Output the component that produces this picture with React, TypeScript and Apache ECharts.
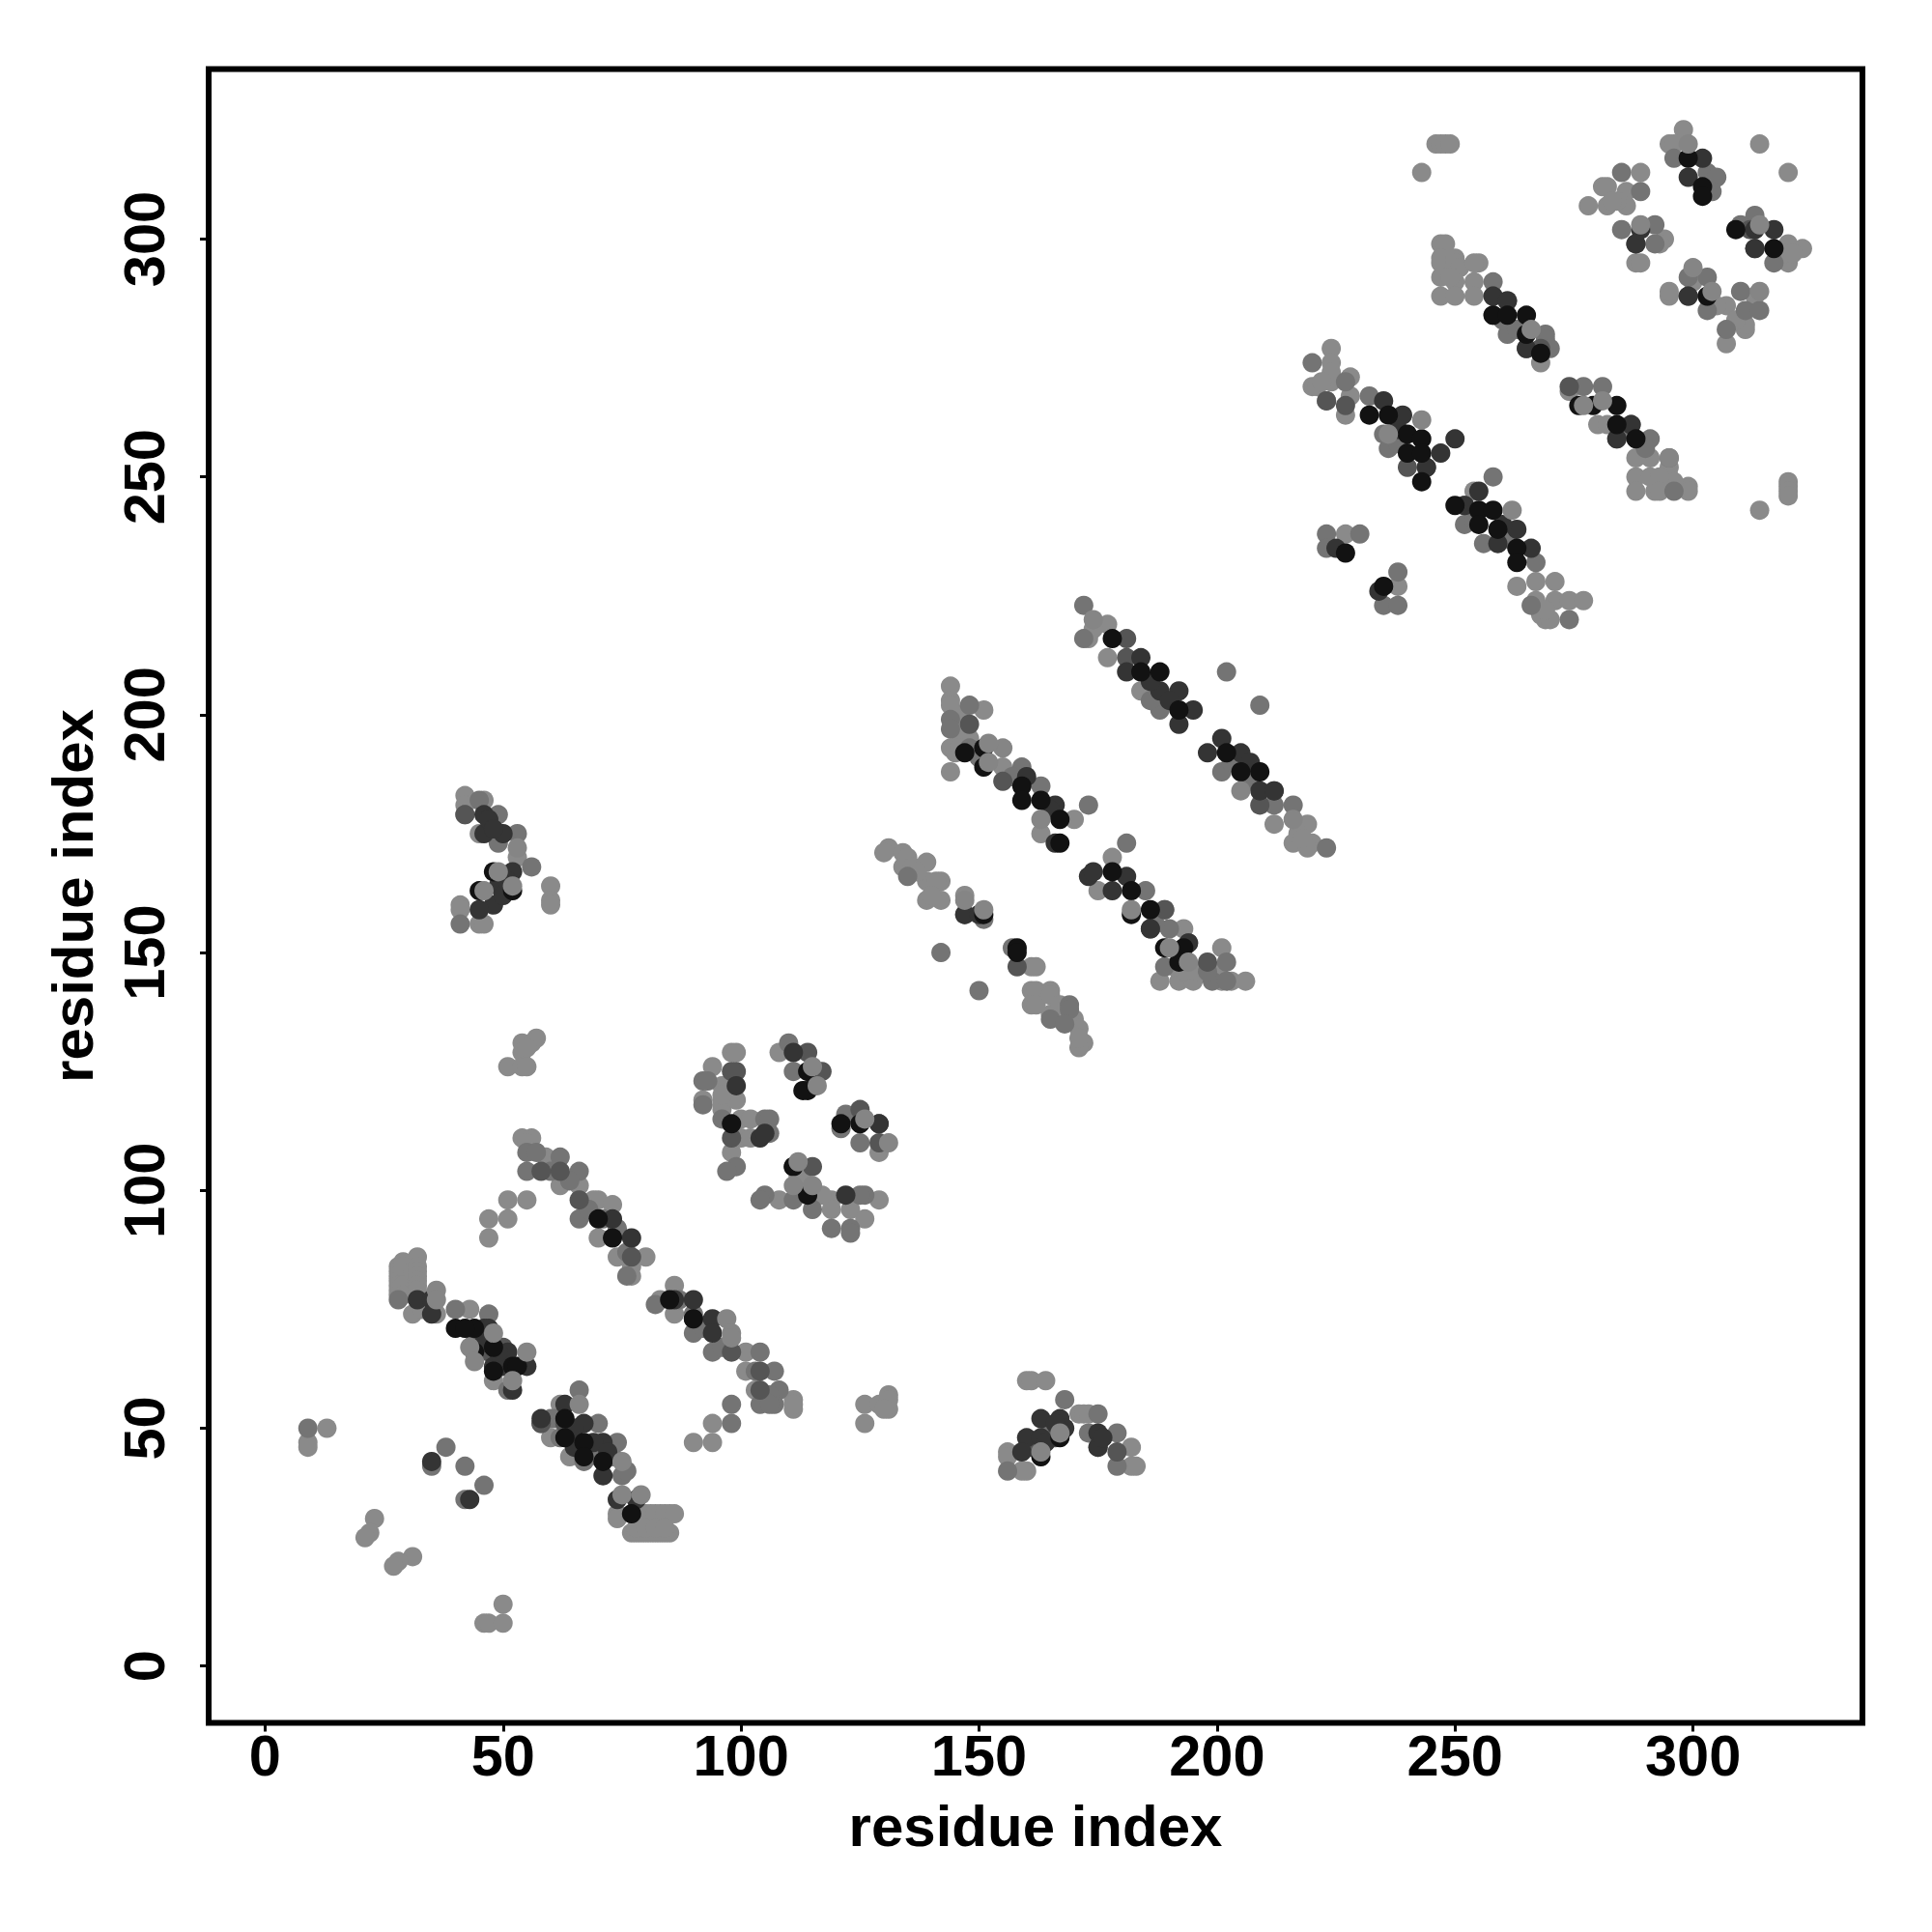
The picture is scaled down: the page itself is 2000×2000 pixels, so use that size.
import React, { useEffect, useRef } from "react";
import * as echarts from "echarts";

const tickValues = [0, 50, 100, 150, 200, 250, 300];
const axisTitle = "residue index";

const lightPoints = [
  [9,47],[9,46],[13,50],[47,94],[51,94],[47,90],[23,31],[22,28],[21,27],[31,23],[28,22],[27,21],[50,13],[46,9],[47,9],[50,9],
  [28,84],[28,83],[28,82],[28,81],[28,80],[28,79],[28,78],[29,85],[29,84],[29,80],[29,78],[31,83],[32,86],[32,84],[32,83],[32,82],[32,81],[32,80],[32,79],[31,74],[33,75],[36,74],
  [43,75],[48,60],[62,55],[60,48],[64,44],[74,32],[74,31],
  [78,32],[79,32],[80,32],[81,32],[82,32],[83,32],[84,32],[85,32],[86,32],[77,28],[78,28],[79,28],[80,28],[81,28],[82,28],[83,28],[84,28],[85,28],[78,29],[80,29],[82,29],[84,29],
  [86,80],[83,77],[86,74],[101,66],[101,62],[103,58],[111,56],[111,54],[111,55],[94,51],[90,47],[94,47],
  [126,55],[126,51],[129,55],[131,54],[131,57],[131,56],[130,54],[160,60],[161,60],[164,60],[171,53],[172,53],[173,53],[182,46],[182,42],[183,42],[156,45],[156,44],[160,41],[159,41],
  [98,129],[99,129],[94,126],[96,122],[92,119],[96,119],[96,117],[96,118],[99,119],[100,115],[102,115],[100,111],[102,111],[98,108],[96,120],
  [108,129],[129,108],[108,98],[129,98],[119,98],[119,96],[123,96],[126,94],[113,102],[117,99],[112,103],
  [42,183],[42,181],[46,182],[45,175],[53,170],[41,160],[41,159],[45,156],[46,156],[60,164],[60,161],[60,160],
  [57,132],[56,131],[54,131],[54,129],[55,130],[51,126],[54,126],[55,126],
  [54,111],[56,111],[55,110],[59,107],[62,101],[66,101],[51,98],[55,98],[69,98],[70,98],[73,97],[74,86],[80,86],[77,82],[77,84],[70,90],
  [131,172],[130,171],[134,171],[135,170],[134,168],[139,169],[142,165],[139,165],[139,161],[142,161],[147,162],[136,168],[137,167],[141,165],[140,162],[161,147],[162,147],
  [161,142],[162,142],[165,142],[161,139],[162,139],[165,141],[165,137],[170,136],[171,134],[172,131],[171,130],[169,137],[171,132],[167,139],
  [144,206],[144,203],[144,202],[146,200],[144,193],[144,188],[145,192],[148,195],[151,201],[155,189],[146,196],[146,193],[170,178],[163,175],
  [177,219],[173,216],[174,218],[177,212],[184,205],[212,177],[219,177],[216,173],[220,173],[219,172],[217,175],[218,174],
  [178,170],[175,163],[193,155],[201,151],[188,144],[192,144],[195,144],[203,144],[206,144],[193,146],[196,146],[191,147],[200,146],[201,144],
  [224,277],[224,274],[220,269],[221,269],[224,270],[224,272],[228,271],[228,267],[227,263],[222,270],[254,247],
  [263,227],[267,228],[271,228],[271,224],[274,224],[277,224],[269,220],[267,224],[268,221],[270,220],[269,222],[227,238],[238,227],
  [274,268],[280,261],[282,261],[288,254],[291,254],[288,250],[288,247],[292,247],[291,250],[295,250],[299,248],[299,247],[295,252],[296,249],[293,250],[293,247],
  [314,243],[246,320],[247,320],[248,320],[249,320],[243,314],[314,320],[320,314],[320,249],[320,248],[320,247],[320,246],
  [247,299],[248,299],[247,295],[247,296],[250,296],[250,295],[251,294],[255,295],[254,295],[247,292],[250,291],[254,291],[247,288],[250,288],[254,288],[249,292],[268,274],
  [278,307],[289,314],[281,311],[282,311],[282,307],[286,310],[286,307],[284,308],[294,300],[293,299],[288,295],[289,295],[283,308],
  [298,323],[295,320],[296,320],[320,299],[320,295],[323,298],[319,297],[318,296],[321,297],
  [295,288],[295,289],[307,286],[313,288],[311,281],[311,282],[307,278],[300,291],[309,283],[305,286],
];

const midPoints = [
  [9,50],[38,46],[42,42],[46,38],[42,35],[35,42],[28,77],[40,75],[47,74],[44,68],[51,58],
  [66,58],[60,52],[70,51],[74,47],[68,44],[67,43],[75,40],[58,51],[61,52],[62,48],[66,46],[69,46],[73,44],[76,41],
  [66,94],[76,82],[87,77],[82,76],[90,74],[90,70],[94,66],[104,66],[107,62],[108,58],[107,55],[104,55],[98,55],[98,51],[106,57],[106,55],[103,62],[96,67],[92,71],
  [175,53],[173,49],[179,49],[179,42],[156,41],[168,56],[162,46],[165,50],
  [92,123],[93,123],[92,118],[96,115],[105,115],[106,115],[106,112],[99,105],[97,104],
  [110,131],[111,125],[122,116],[121,113],[125,110],[105,99],[104,98],[111,98],[126,99],[115,96],[119,92],[123,92],[123,91],[125,99],
  [42,179],[45,182],[49,179],[49,173],[53,175],[56,168],[41,156],
  [55,108],[57,108],[55,104],[62,107],[66,104],[71,94],[60,104],[64,102],[68,96],[74,92],[76,87],
  [135,166],[165,136],[169,139],[169,138],[168,135],[142,150],[150,142],[157,151],[151,157],
  [144,199],[144,197],[148,202],[148,193],[159,189],[163,185],[173,181],[157,187],[150,191],
  [172,223],[172,216],[188,201],[202,209],[209,202],[201,188],[212,181],[216,181],[223,172],[186,203],[203,190],[207,186],
  [181,173],[185,163],[189,159],[190,155],[189,147],[202,148],[199,144],[202,144],[187,156],[198,146],
  [220,274],[227,270],[223,266],[232,267],[235,259],[236,256],[258,250],[252,240],[256,236],[267,232],[266,223],[274,220],[238,257],[254,241],[261,237],
  [223,238],[223,235],[230,238],[238,230],[235,223],[238,223],
  [277,269],[281,269],[291,258],[295,254],[296,247],[286,260],[290,256],
  [258,291],[261,280],[269,280],[269,279],[270,277],[285,314],[289,310],[292,303],[292,299],[285,302],[260,283],[263,281],
  [296,317],[303,314],[305,313],[304,310],[313,305],[310,303],[317,295],[299,292],[303,292],[303,285],[310,289],[311,285],[314,285],[307,281],
];

const slatePoints = [
  [58,51],[63,51],[77,86],[104,62],[104,58],[98,66],[90,73],
  [99,125],[98,125],[98,111],[114,129],[125,117],[129,110],[115,105],
  [42,179],[62,104],[58,104],[66,98],[147,158],[158,147],[148,198],[155,186],[181,212],[181,216],[186,155],[198,148],[194,152],
  [189,159],[212,184],[209,181],[240,252],[244,252],[223,266],[227,265],[252,244],[287,261],[284,258],[274,269],[312,302],
  [261,287],[258,288],[265,277],[268,277],[288,299],[299,288],[303,288],[313,298],[117,125],[129,114],[179,45],[175,46],
  [47,66],[50,67],[45,69],[166,48],[161,46],
];

const darkPoints = [
  [35,43],[43,35],[32,77],[35,77],[35,74],[46,71],[51,66],[52,58],[48,63],[55,63],[47,71],[50,63],[46,68],[49,66],
  [63,55],[58,52],[67,51],[71,47],[64,48],[71,40],[74,35],[78,35],[73,94],[77,90],[90,77],[86,77],[94,73],[94,70],[65,50],[69,47],[65,46],[72,45],
  [163,52],[167,52],[175,49],[175,46],[160,48],[163,48],[159,45],[168,50],[166,51],[164,47],[176,48],
  [99,122],[104,111],[111,129],[111,105],[122,99],[129,114],[105,112],
  [46,179],[46,175],[50,175],[52,167],[49,164],[48,160],[45,159],[50,162],[51,165],[47,178],[48,176],
  [147,158],[166,181],[166,173],[150,158],[181,209],[184,212],[188,205],[192,205],[195,201],[192,198],[186,207],[190,203],
  [198,192],[201,195],[205,192],[209,184],[212,184],[173,166],[174,167],[181,166],[178,163],[186,155],[194,152],[207,190],[160,187],[165,180],
  [235,266],[239,263],[247,255],[250,258],[244,252],[255,247],[252,244],[263,239],[259,236],[266,235],[234,226],[225,235],[238,260],[260,240],
  [287,261],[284,258],[258,288],[261,287],[258,284],[265,277],[302,317],[299,313],[313,302],[317,302],[313,298],[299,288],[288,299],[289,302],
];

const blackPoints = [
  [40,71],[44,71],[42,71],[44,66],[48,67],[52,63],[53,63],[48,62],
  [63,52],[63,48],[67,47],[67,44],[71,43],[77,32],[85,77],[90,73],[70,94],[73,90],
  [167,48],[163,44],[98,114],[114,125],[114,121],[113,121],[121,114],[125,114],[114,99],[111,105],[48,167],[52,163],[45,163],
  [158,151],[158,150],[151,158],[147,192],[151,193],[151,189],[159,185],[159,182],[163,182],[167,178],[167,173],
  [178,216],[184,209],[188,209],[192,201],[202,192],[205,188],[209,188],
  [178,167],[182,163],[186,159],[182,158],[189,151],[193,151],[192,148],
  [232,263],[236,263],[240,259],[243,258],[240,255],[243,255],[243,249],[250,244],[255,243],[258,243],[255,240],[259,239],[263,235],[263,232],
  [227,234],[235,227],[276,265],[279,265],[284,265],[284,261],[288,258],[258,284],[261,284],[265,284],[265,280],[268,276],
  [299,317],[302,311],[302,309],[309,302],[317,298],[303,288],
];

const overlayPoints = [
  [36,79],[36,77],[43,67],[44,64],[48,70],[55,66],[52,60],[66,55],[75,43],[75,36],[79,36],[97,73],[98,70],[98,69],
  [163,45],[167,49],[111,101],[115,101],[116,122],[115,126],[126,115],[131,110],[112,106],
  [49,167],[46,163],[52,164],[53,172],[147,161],[151,159],[163,178],[155,193],[152,190],[152,194],[174,220],
  [182,159],[190,151],[194,148],[205,184],[216,178],[236,259],[243,262],[262,243],
  [277,265],[281,266],[266,281],[289,303],[295,254],[299,320],[314,303],[300,294],[304,289],[314,289],
];

const shades = [
  { values: lightPoints, color: "#8a8a8a" },
  { values: midPoints, color: "#747474" },
  { values: slatePoints, color: "#555555" },
  { values: darkPoints, color: "#343434" },
  { values: blackPoints, color: "#121212" },
  { values: overlayPoints, color: "#858585" },
];

export default function App() {
  const ref = useRef<HTMLDivElement>(null);
  useEffect(() => {
    const chart = echarts.init(ref.current!, null, { renderer: "svg" });
    const font = { fontFamily: "Liberation Sans", fontWeight: "bold" as const, fontSize: 59.5, color: "#000" };
    const axis = {
      type: "value" as const,
      min: -11.85,
      max: 335.6,
      splitLine: { show: false },
      axisLine: { show: false, onZero: false },
      axisTick: { show: true, length: 9, customValues: tickValues, lineStyle: { color: "#000", width: 3 } },
      name: axisTitle,
      nameLocation: "middle" as const,
      nameTextStyle: { ...font, fontSize: 60 },
    };
    chart.setOption({
      animation: false,
      backgroundColor: "#fff",
      grid: { left: 216, top: 71.5, width: 1712, height: 1712, show: true, borderWidth: 6, borderColor: "#000", backgroundColor: "transparent" },
      xAxis: { ...axis, nameGap: 77, axisLabel: { ...font, customValues: tickValues, margin: 4 } },
      yAxis: { ...axis, min: -11.95, max: 335.75, nameGap: 111, axisLabel: { ...font, customValues: tickValues, rotate: 90, margin: 37 } },
      series: shades.map((s) => ({
        type: "scatter",
        data: s.values,
        symbol: "circle",
        symbolSize: 20,
        silent: true,
        itemStyle: { color: s.color, opacity: 1 },
      })),
    });
    return () => chart.dispose();
  }, []);
  return <div ref={ref} style={{ position: "absolute", left: 0, top: 0, width: 2000, height: 2000 }} />;
}
